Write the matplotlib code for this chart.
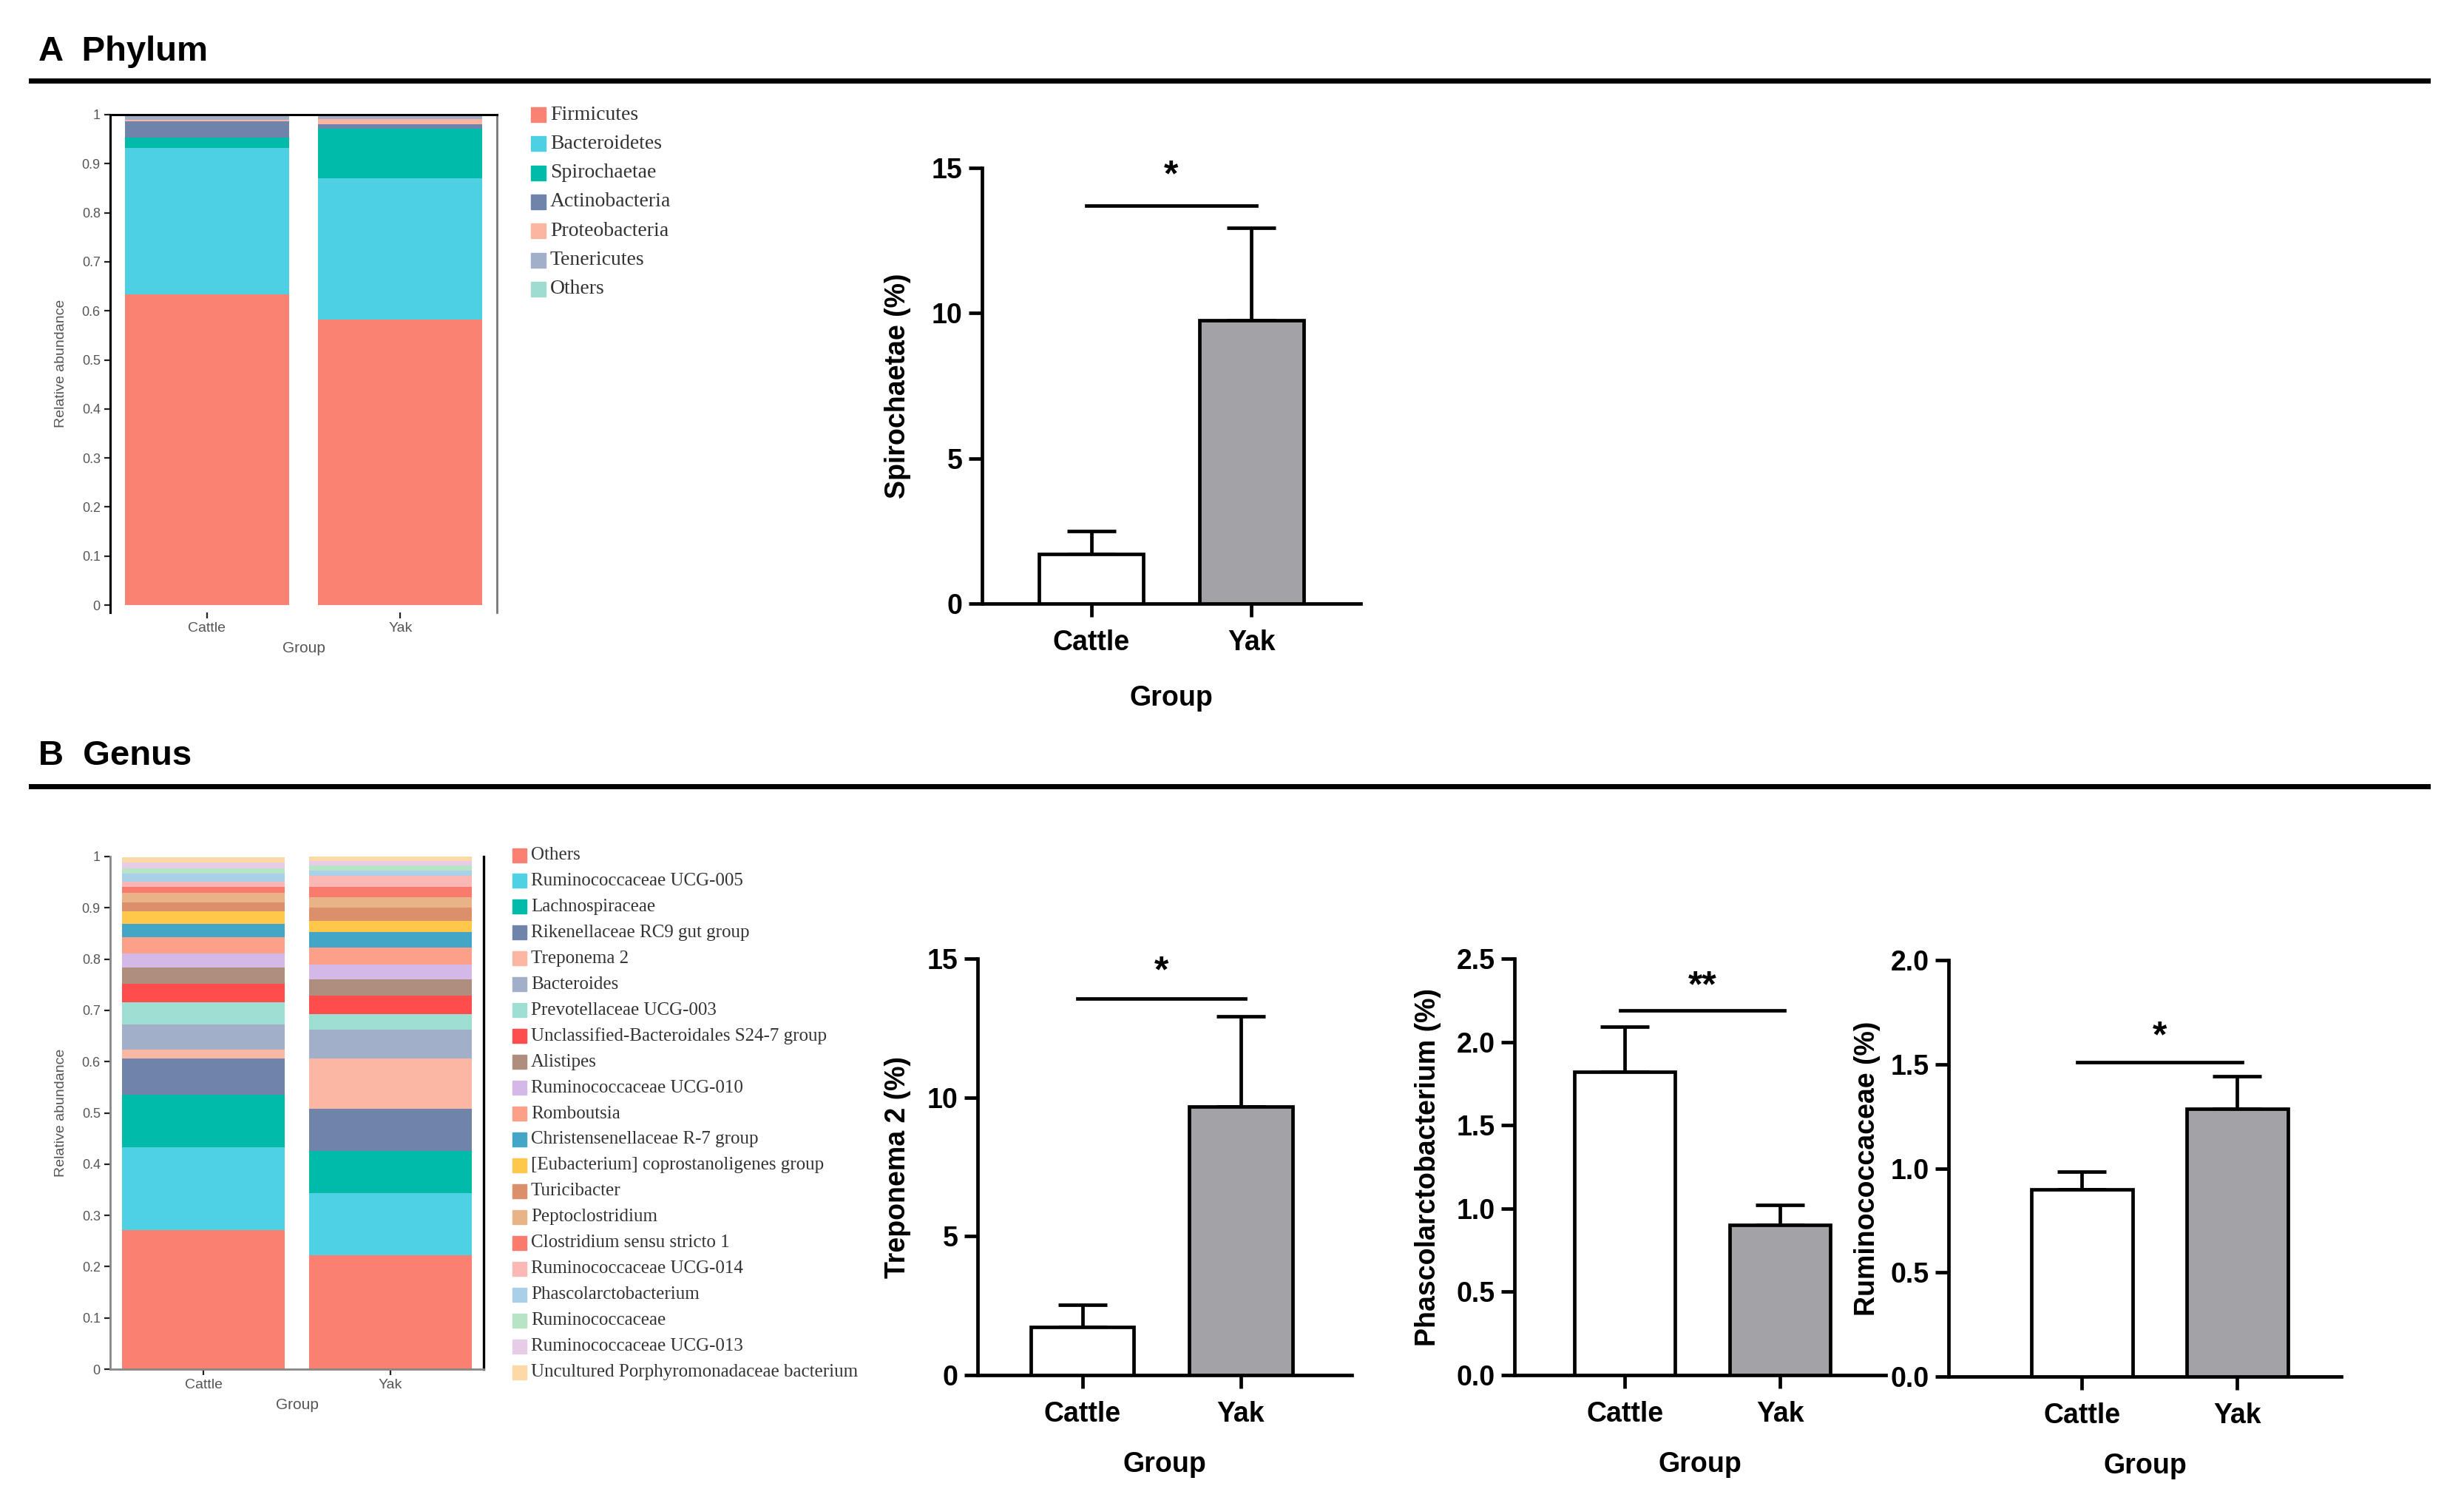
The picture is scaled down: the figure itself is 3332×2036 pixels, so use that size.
import matplotlib
matplotlib.use('Agg')
import matplotlib.pyplot as plt
from matplotlib.patches import Rectangle
from matplotlib.lines import Line2D
import numpy as np

plt.rcParams['font.family'] = ['Liberation Sans', 'DejaVu Sans']

W, H = 3332, 2036

groups = ['Cattle', 'Yak']

# ---------------- Phylum stacked data ----------------
phyla = ['Firmicutes', 'Bacteroidetes', 'Spirochaetae', 'Actinobacteria',
         'Proteobacteria', 'Tenericutes', 'Others']
phylum_colors = ['#FA8272', '#4DD0E1', '#00BBA7', '#6E84AA', '#FBB5A0', '#A1AFC9', '#9EDCD0']
phylum_cattle = [0.634, 0.298, 0.021, 0.034, 0.003, 0.009, 0.001]
phylum_yak = [0.582, 0.288, 0.101, 0.009, 0.011, 0.007, 0.002]

# ---------------- Genus stacked data ----------------
genera = ['Others', 'Ruminococcaceae UCG-005', 'Lachnospiraceae',
          'Rikenellaceae RC9 gut group', 'Treponema 2', 'Bacteroides',
          'Prevotellaceae UCG-003', 'Unclassified-Bacteroidales S24-7 group',
          'Alistipes', 'Ruminococcaceae UCG-010', 'Romboutsia',
          'Christensenellaceae R-7 group', '[Eubacterium] coprostanoligenes group',
          'Turicibacter', 'Peptoclostridium', 'Clostridium sensu stricto 1',
          'Ruminococcaceae UCG-014', 'Phascolarctobacterium', 'Ruminococcaceae',
          'Ruminococcaceae UCG-013', 'Uncultured Porphyromonadaceae bacterium']
genus_colors = ['#FA8072', '#4ED1E2', '#00BBA8', '#6F84A9', '#FCB7A4', '#A2AFC8',
                '#9FDFD2', '#FF4C4C', '#AF8E7E', '#D3B8E8', '#FDA08A', '#44A6C6',
                '#FFC84A', '#DB8F6A', '#E8B386', '#FA7A6E', '#FBB8B5', '#A9D0E8',
                '#B8E4C6', '#E6CCE6', '#FDD9A8']
genus_cattle = [0.272, 0.161, 0.102, 0.071, 0.017, 0.050, 0.043, 0.036, 0.031, 0.028,
                0.031, 0.027, 0.024, 0.017, 0.019, 0.012, 0.010, 0.016, 0.010, 0.011, 0.011]
genus_yak = [0.222, 0.121, 0.083, 0.082, 0.098, 0.056, 0.031, 0.035, 0.032, 0.029,
             0.033, 0.031, 0.021, 0.027, 0.020, 0.020, 0.021, 0.010, 0.011, 0.008, 0.009]

# ---------------- Bar chart data (mean, upper SE) ----------------
spiro_mean = [1.71, 9.75]
spiro_err = [0.79, 3.18]
trep_mean = [1.73, 9.68]
trep_err = [0.80, 3.24]
phasc_mean = [1.82, 0.903]
phasc_err = [0.27, 0.117]
rumi_mean = [0.898, 1.286]
rumi_err = [0.085, 0.155]


def fx(px):
    return px / W


def fy(py):
    return 1 - py / H


fig = plt.figure(figsize=(W / 100, H / 100), dpi=100)

# ---------------- headers ----------------
fig.text(fx(52), fy(70), 'A  Phylum', fontsize=34, weight='bold', va='center', ha='left')
fig.add_artist(Line2D([fx(42), fx(3283)], [fy(109), fy(109)], lw=5, color='black'))
fig.text(fx(52), fy(1022), 'B  Genus', fontsize=34, weight='bold', va='center', ha='left')
fig.add_artist(Line2D([fx(42), fx(3283)], [fy(1063), fy(1063)], lw=5, color='black'))


def stacked(ax, cattle, yak, colors, width):
    x = np.arange(len(groups))
    bottoms = np.zeros(2)
    for c, yv, col in zip(cattle, yak, colors):
        vals = np.array([c, yv])
        ax.bar(x, vals, width=width, bottom=bottoms, color=col, edgecolor='none')
        bottoms += vals
    ax.set_xlim(-0.5, 1.5)
    ax.set_xticks(x)
    ax.set_xticklabels(groups, fontsize=14, color='#555555')
    ax.set_yticks(np.linspace(0, 1, 11))
    ax.set_yticklabels(['0'] + ['%.1f' % v for v in np.linspace(0.1, 0.9, 9)] + ['1'],
                       fontsize=13, color='#555555')
    ax.set_xlabel('Group', fontsize=15, color='#555555', labelpad=6)
    ax.set_ylabel('Relative abundance', fontsize=14, color='#555555', labelpad=14)
    ax.tick_params(axis='both', direction='out', length=6, width=1.6, colors='#222222')
    ax.tick_params(axis='both', labelcolor='#555555')


# ---------------- Phylum stacked ----------------
axp = fig.add_axes([fx(149), fy(828), fx(672 - 149), (828 - 155) / H])
stacked(axp, phylum_cattle, phylum_yak, phylum_colors, 0.85)
axp.set_ylim(-0.015, 1.0)
axp.spines['bottom'].set_visible(False)
axp.spines['left'].set_linewidth(2.2)
axp.spines['top'].set_linewidth(2.2)
axp.spines['right'].set_linewidth(2.0)
axp.spines['right'].set_color('#777777')

serif = ['Liberation Serif', 'DejaVu Serif']
for i, (name, col) in enumerate(zip(phyla, phylum_colors)):
    yc = 155 + i * 39.3
    fig.add_artist(Rectangle((fx(718), fy(yc + 10)), 20 / W, 20 / H, color=col,
                             transform=fig.transFigure))
    fig.text(fx(744), fy(yc), name, fontsize=20, family=serif,
             color='#333333', va='center', ha='left')

# ---------------- Genus stacked ----------------
axg = fig.add_axes([fx(149), fy(1851), fx(654 - 149), (1851 - 1158) / H])
stacked(axg, genus_cattle, genus_yak, genus_colors, 0.87)
axg.set_ylim(0, 1.0)
axg.spines['top'].set_visible(False)
axg.spines['left'].set_color('#888888')
axg.spines['left'].set_linewidth(2.0)
axg.spines['bottom'].set_color('#888888')
axg.spines['bottom'].set_linewidth(2.0)
axg.spines['right'].set_linewidth(2.4)

for i, (name, col) in enumerate(zip(genera, genus_colors)):
    yc = 1156 + i * 34.95
    fig.add_artist(Rectangle((fx(693), fy(yc + 9.5)), 19 / W, 19 / H, color=col,
                             transform=fig.transFigure))
    fig.text(fx(718), fy(yc), name, fontsize=18, family=serif,
             color='#333333', va='center', ha='left')


# ---------------- bar charts ----------------
def sig_bars(rect, means, errs, ymax, yticks, ticklabels, ylabel, line_y, stars, star_y, xlim,
             ylabelpad=20, xlabelpad=28):
    ax = fig.add_axes(rect)
    x = np.arange(2)
    ax.bar(x, means, width=0.65, color=['white', '#A3A3A7'], edgecolor='black',
           linewidth=3.4, zorder=3)
    ax.errorbar(x, means, yerr=[np.zeros(2), errs], fmt='none', ecolor='black',
                elinewidth=3.4, capsize=24, capthick=3.4, zorder=2)
    ax.plot([-0.03, 1.03], [line_y, line_y], color='black', lw=3.4, clip_on=False)
    ax.text(0.5, star_y, stars, ha='center', va='center', fontsize=36, weight='bold',
            clip_on=False)
    ax.set_xlim(*xlim)
    ax.set_ylim(0, ymax)
    ax.set_yticks(yticks)
    ax.set_yticklabels(ticklabels)
    ax.set_xticks(x)
    ax.set_xticklabels(groups)
    for s in ['top', 'right']:
        ax.spines[s].set_visible(False)
    for s in ['left', 'bottom']:
        ax.spines[s].set_linewidth(3.4)
    ax.tick_params(axis='both', direction='out', length=13, width=3.4, labelsize=27, pad=6)
    ax.tick_params(axis='x', pad=12)
    for lab in ax.get_xticklabels() + ax.get_yticklabels():
        lab.set_fontweight('bold')
    ax.set_xlabel('Group', fontsize=27, weight='bold', labelpad=xlabelpad)
    ax.set_ylabel(ylabel, fontsize=27, weight='bold', labelpad=ylabelpad)
    return ax


sig_bars([fx(1328), fy(816), fx(1840 - 1328), (816 - 227) / H], spiro_mean, spiro_err, 15,
         [0, 5, 10, 15], ['0', '5', '10', '15'], 'Spirochaetae (%)', 13.7, '*', 14.7,
         (-0.68, 1.68))

gb, gt = 1859, 1296
sig_bars([fx(1322), fy(gb), fx(1828 - 1322), (gb - gt) / H], trep_mean, trep_err, 15,
         [0, 5, 10, 15], ['0', '5', '10', '15'], 'Treponema 2 (%)', 13.55, '*', 14.5,
         (-0.66, 1.70), ylabelpad=16, xlabelpad=23)
sig_bars([fx(2048), fy(gb), fx(2550 - 2048), (gb - gt) / H], phasc_mean, phasc_err, 2.5,
         [0, 0.5, 1.0, 1.5, 2.0, 2.5], ['0.0', '0.5', '1.0', '1.5', '2.0', '2.5'],
         'Phascolarctobacterium (%)', 2.19, '**', 2.33, (-0.71, 1.68),
         ylabelpad=15, xlabelpad=23)
sig_bars([fx(2635), fy(gb + 2), fx(3166 - 2635), (gb - gt) / H], rumi_mean, rumi_err, 2.0,
         [0, 0.5, 1.0, 1.5, 2.0], ['0.0', '0.5', '1.0', '1.5', '2.0'],
         'Ruminococcaceae (%)', 1.51, '*', 1.63, (-0.86, 1.67),
         ylabelpad=10, xlabelpad=23)

fig.savefig('out.png', dpi=100, facecolor='white')
